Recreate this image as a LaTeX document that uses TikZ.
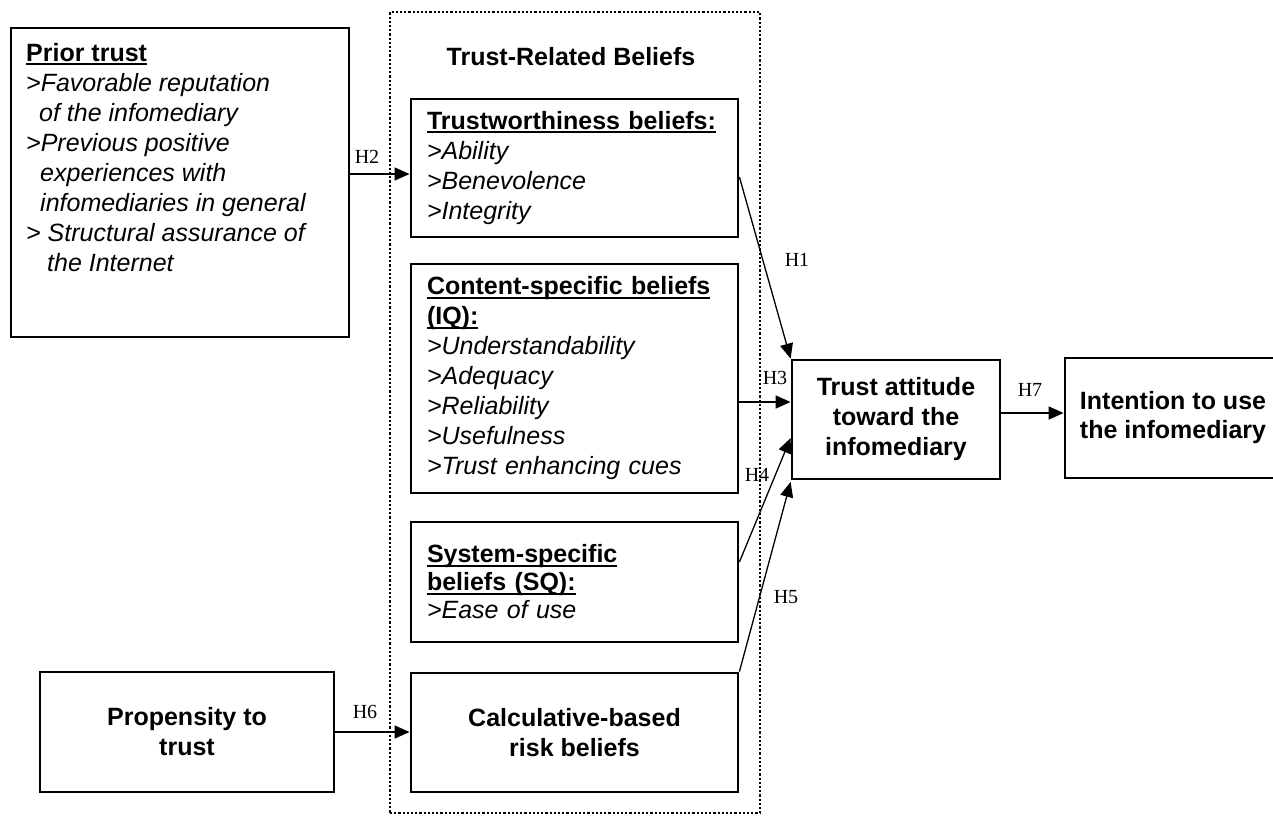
\documentclass[tikz,border=0pt]{standalone}
\usepackage{fontspec}
\setmainfont{Liberation Sans}
\newfontfamily\tnr{Liberation Serif}
\usetikzlibrary{arrows.meta}
\newcommand\ulin[1]{\leavevmode\setbox0\hbox{#1}\rlap{\rule[-4pt]{\wd0}{2.2pt}}\box0}
\tikzset{
  bx/.style={draw, line width=2.8pt, inner sep=0pt, font=\fontsize{25}{30}\selectfont},
  lbox/.style={bx, align=left, text width=295pt, inner xsep=16pt, minimum width=327pt},
  cbox/.style={bx, align=center, font=\bfseries\fontsize{25}{30}\selectfont},
  lbl/.style={font=\tnr\fontsize{20}{24}\selectfont, inner sep=0pt},
  arr/.style={line width=1.3pt, -{Triangle[length=15pt,width=13pt]}},
  grp/.style={draw, line width=2.3pt, dash pattern=on 2.2pt off 2pt, inner sep=0pt},
}
\begin{document}
\begin{tikzpicture}[x=1pt,y=-1pt]
\useasboundingbox (0,0) rectangle (1273,815);
% group container
\node[grp, minimum width=370pt, minimum height=801pt] (grp) at (575,412.5) {};
\node[font=\bfseries\fontsize{25}{30}\selectfont, inner sep=0pt] (grptitle) at (571,57) {Trust-Related Beliefs};
% prior trust
\node[draw, line width=1.6pt, minimum width=338pt, minimum height=309pt, inner sep=0pt] (prior) at (180,182.5) {};
\node[anchor=north west, inner sep=0pt, align=left, font=\fontsize{25}{30}\selectfont] (priortext) at (26,43)
 {\ulin{\textbf{Prior trust}}\\
  \textit{>Favorable reputation}\\
  \hspace*{13pt}\textit{of the infomediary}\\
  \textit{>Previous positive}\\
  \hspace*{14pt}\textit{experiences with}\\
  \hspace*{14pt}\textit{infomediaries in general}\\
  \textit{> Structural assurance of}\\
  \hspace*{21pt}\textit{the Internet}};
% trust-related beliefs boxes
\node[lbox, minimum height=138pt] (tw) at (574.5,168)
 {\ulin{\textbf{Trustworthiness beliefs:}}\\
  \textit{>Ability}\\
  \textit{>Benevolence}\\
  \textit{>Integrity}};
\node[lbox, minimum height=229pt] (cs) at (574.5,378.5)
 {\ulin{\textbf{Content-specific beliefs}}\\
  \ulin{\textbf{(IQ):}}\\
  \textit{>Understandability}\\
  \textit{>Adequacy}\\
  \textit{>Reliability}\\
  \textit{>Usefulness}\\
  \textit{>Trust enhancing cues}};
\node[lbox, minimum height=120pt, font=\fontsize{25}{28}\selectfont] (ss) at (574.5,582)
 {\ulin{\textbf{System-specific}}\\
  \ulin{\textbf{beliefs (SQ):}}\\
  \textit{>Ease of use}};
\node[cbox, minimum width=327pt, minimum height=119pt] (cb) at (574.5,732.5)
 {Calculative-based\\ risk beliefs};
% propensity
\node[cbox, minimum width=294pt, minimum height=120pt] (prop) at (187,732)
 {Propensity to\\ trust};
% outcomes
\node[cbox, minimum width=208pt, minimum height=119pt] (ta) at (896,419.5)
 {Trust attitude\\ toward the\\ infomediary};
\node[cbox, minimum width=216pt, minimum height=120pt, font=\bfseries\fontsize{25}{29}\selectfont] (it) at (1173,418)
 {Intention to use\\ the infomediary};
% connectors
\draw[arr] (prior.east |- 0,174) -- (tw.west |- 0,174);
\draw[arr] (tw.east |- 0,177) -- (ta.north west);
\draw[arr] (cs.east |- 0,402) -- (ta.west |- 0,402);
\draw[arr] (ss.east |- 0,562) -- (ta.west |- 0,438);
\draw[arr] (cb.north east) -- (ta.west |- 0,482);
\draw[arr] (prop.east) -- (cb.west |- prop.east);
\draw[arr] (ta.east |- 0,413) -- (it.west |- 0,413);
% labels
\node[lbl] (h2) at (367,157) {H2};
\node[lbl] (h1) at (797,260) {H1};
\node[lbl] (h3) at (775,378) {H3};
\node[lbl] (h4) at (757,475) {H4};
\node[lbl] (h5) at (786,597) {H5};
\node[lbl] (h6) at (365,712) {H6};
\node[lbl] (h7) at (1030,390) {H7};
\end{tikzpicture}
\end{document}
